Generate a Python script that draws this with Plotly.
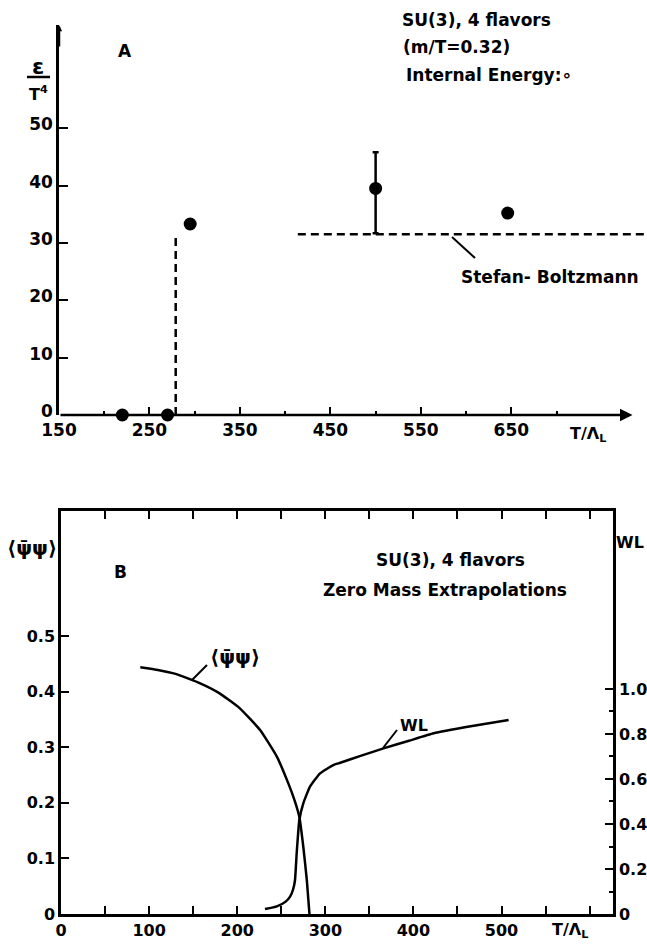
import plotly.graph_objects as go

W, H = 647, 944
def px(x):
    return x / W
def py(y):
    return 1 - y / H

# ---------------- Panel A data ----------------
a_T = [220, 270, 295, 646]
a_eps = [0, 0, 33.3, 35.2]
a_err_T = [500]
a_err_eps = [39.5]
a_err_plus = [6.3]
a_err_minus = [7.8]
sb_jump_T = [279, 279]
sb_jump_eps = [0, 31]
sb_T = [414, 800]
sb_eps = [31.5, 31.5]
a_xticks = [150, 250, 350, 450, 550, 650]
a_xminor = [200, 300, 400, 500, 600, 700]
a_yticks = [0, 10, 20, 30, 40, 50]

# ---------------- Panel B data ----------------
pbp_T = [90, 110, 130, 158, 180, 203, 226, 245, 258, 265, 270.5, 275, 279, 282]
pbp_val = [0.444, 0.439, 0.432, 0.415, 0.397, 0.37, 0.331, 0.283, 0.235, 0.205, 0.175,
           0.121, 0.061, 0.0]
wl_T = [231.5, 245, 255, 260, 263.5, 265.6, 267.5, 270.5, 275, 282.6, 294, 309, 317, 340,
        366, 395, 423, 465, 508]
wl_val = [0.022, 0.034, 0.055, 0.077, 0.11, 0.151, 0.27, 0.418, 0.492, 0.566, 0.625, 0.662,
          0.672, 0.703, 0.736, 0.77, 0.803, 0.834, 0.862]
b_xticks = [0, 100, 200, 300, 400, 500]
b_yticks = [0, 0.1, 0.2, 0.3, 0.4, 0.5]
b_yticklabels = ["0", "0.1", "0.2", "0.3", "0.4", "0.5"]
b_rticks = [0, 0.2, 0.4, 0.6, 0.8, 1.0]
b_rticklabels = ["0", "0.2", "0.4", "0.6", "0.8", "1.0"]
b_rminor = [0.1, 0.3, 0.5, 0.7, 0.9]

FONT = "DejaVu Sans"
BLK = "black"

fig = go.Figure()

# Panel A
fig.add_trace(go.Scatter(x=sb_jump_T, y=sb_jump_eps, mode="lines",
                         line=dict(color=BLK, width=2.5, dash="8px,5px"),
                         xaxis="x", yaxis="y", showlegend=False, cliponaxis=False))
fig.add_trace(go.Scatter(x=sb_T, y=sb_eps, mode="lines",
                         line=dict(color=BLK, width=2.5, dash="8px,5px"),
                         xaxis="x", yaxis="y", showlegend=False))
fig.add_trace(go.Scatter(x=a_T, y=a_eps, mode="markers",
                         marker=dict(color=BLK, size=13),
                         xaxis="x", yaxis="y", showlegend=False, cliponaxis=False))
fig.add_trace(go.Scatter(x=a_err_T, y=a_err_eps, mode="markers",
                         marker=dict(color=BLK, size=13),
                         error_y=dict(type="data", symmetric=False, array=a_err_plus,
                                      arrayminus=a_err_minus, color=BLK, thickness=2.5, width=3),
                         xaxis="x", yaxis="y", showlegend=False, cliponaxis=False))

# Panel B
fig.add_trace(go.Scatter(x=pbp_T, y=pbp_val, mode="lines",
                         line=dict(color=BLK, width=2.5, shape="spline", smoothing=0.4),
                         xaxis="x2", yaxis="y2", showlegend=False))
fig.add_trace(go.Scatter(x=wl_T, y=wl_val, mode="lines",
                         line=dict(color=BLK, width=2.5, shape="spline", smoothing=0.4),
                         xaxis="x2", yaxis="y3", showlegend=False))

tickfont = dict(family=FONT, size=17, color=BLK, weight="bold")
tickfontB = dict(family=FONT, size=16, color=BLK, weight="bold")

fig.update_layout(
    width=W, height=H, margin=dict(l=0, r=0, t=0, b=0),
    paper_bgcolor="white", plot_bgcolor="rgba(0,0,0,0)",
    font=dict(family=FONT, color=BLK),
    xaxis=dict(domain=[px(59), 1.0], range=[150, 800], anchor="y", automargin=False,
               showline=False, showgrid=False, zeroline=False,
               tickmode="array", tickvals=a_xticks, ticktext=[str(v) for v in a_xticks],
               ticks="inside", ticklen=8, tickwidth=2, tickcolor=BLK, tickfont=tickfont,
               ticklabelstandoff=3,
               minor=dict(tickmode="array", tickvals=a_xminor, ticks="inside", ticklen=4,
                          tickwidth=2, tickcolor=BLK, showgrid=False)),
    yaxis=dict(domain=[py(415), py(25)], range=[0, 68], anchor="x", automargin=False,
               showline=True, linecolor=BLK, linewidth=2.5, showgrid=False, zeroline=False,
               tickmode="array", tickvals=a_yticks, ticktext=[str(v) for v in a_yticks],
               ticks="inside", ticklen=9, tickwidth=2, tickcolor=BLK, tickfont=tickfont,
               ticklabelshift=-4),
    xaxis2=dict(domain=[px(61), px(613)], range=[0, 626.5], anchor="y2", automargin=False,
                showline=True, linecolor=BLK, linewidth=2.5, mirror="ticks",
                showgrid=False, zeroline=False,
                tickmode="array", tickvals=b_xticks, ticktext=[str(v) for v in b_xticks],
                ticks="inside", ticklen=8, tickwidth=2, tickcolor=BLK, tickfont=tickfontB,
                minor=dict(dtick=50, tick0=0, ticks="inside", ticklen=8, tickwidth=2,
                           tickcolor=BLK, showgrid=False)),
    yaxis2=dict(domain=[py(914), py(511)], range=[0, 0.725], anchor="x2", automargin=False,
                showline=True, linecolor=BLK, linewidth=2.5, showgrid=False, zeroline=False,
                tickmode="array", tickvals=b_yticks, ticktext=b_yticklabels,
                ticks="inside", ticklen=8, tickwidth=2, tickcolor=BLK, tickfont=tickfontB),
    yaxis3=dict(range=[0, 1.791], overlaying="y2", side="right", anchor="x2", automargin=False,
                showline=True, linecolor=BLK, linewidth=2.5, showgrid=False, zeroline=False,
                tickmode="array", tickvals=b_rticks, ticktext=b_rticklabels,
                ticks="inside", ticklen=8, tickwidth=2, tickcolor=BLK, tickfont=tickfontB,
                minor=dict(tickmode="array", tickvals=b_rminor, ticks="inside", ticklen=4,
                           tickwidth=2, tickcolor=BLK, showgrid=False)),
)

ann = []
def text(x, y, s, size=15, xanchor="center"):
    ann.append(dict(x=px(x), y=py(y), xref="paper", yref="paper", text=s, showarrow=False,
                    xanchor=xanchor, yanchor="middle",
                    font=dict(family=FONT, size=size, color=BLK, weight="bold")))

# x axis line of panel A with arrow
ann.append(dict(x=784, y=0, ax=150, ay=0, xref="x", yref="y", axref="x", ayref="y",
                text="", showarrow=True, arrowhead=2, arrowsize=1, arrowwidth=2.5,
                arrowcolor=BLK))
# small arrow tip on top of the y axis of panel A
ann.append(dict(x=150, y=68, ax=150, ay=64, xref="x", yref="y", axref="x", ayref="y",
                text="", showarrow=True, arrowhead=2, arrowsize=0.5, arrowwidth=2.5,
                arrowcolor=BLK))

# Panel A texts
text(125, 51, "A", 17)
text(400, 20, "SU(3), 4 flavors", 17, "left")
text(401, 47, "(m/T=0.32)", 17, "left")
text(404, 75, "Internal Energy:\u2218", 17, "left")
text(550, 277, "Stefan- Boltzmann", 17)
text(588, 434, "T/\u039b<sub>L</sub>", 16)
text(38, 66, "\u03b5", 22)
text(38, 93, "T<sup>4</sup>", 16)

# Panel B texts
text(120, 572, "B", 17)
text(450, 560, "SU(3), 4 flavors", 17)
text(445, 590, "Zero Mass Extrapolations", 17)
text(32, 548, "\u27e8\u03c8\u0304\u03c8\u27e9", 20)
text(630, 542, "WL", 16)
text(235, 657, "\u27e8\u03c8\u0304\u03c8\u27e9", 20)
text(414, 725, "WL", 16)
text(570, 930, "T/\u039b<sub>L</sub>", 16)

fig.update_layout(annotations=ann)

shapes = []
def seg(x0, y0, x1, y1, w=2):
    shapes.append(dict(type="line", xref="paper", yref="paper",
                       x0=px(x0), y0=py(y0), x1=px(x1), y1=py(y1),
                       line=dict(color=BLK, width=w)))
seg(27, 77, 50, 77, 2.5)          # fraction bar of eps/T^4
seg(452, 237, 475, 258, 2)        # Stefan-Boltzmann leader
seg(192, 680, 207, 665, 2)        # <psibar psi> leader
seg(383, 748, 397, 730, 2)        # WL leader
fig.update_layout(shapes=shapes)

fig.write_html("out.html", config={"displayModeBar": False},
               post_script="document.body.style.margin='0';document.body.style.padding='0';"
                           "document.body.style.overflow='hidden';")
